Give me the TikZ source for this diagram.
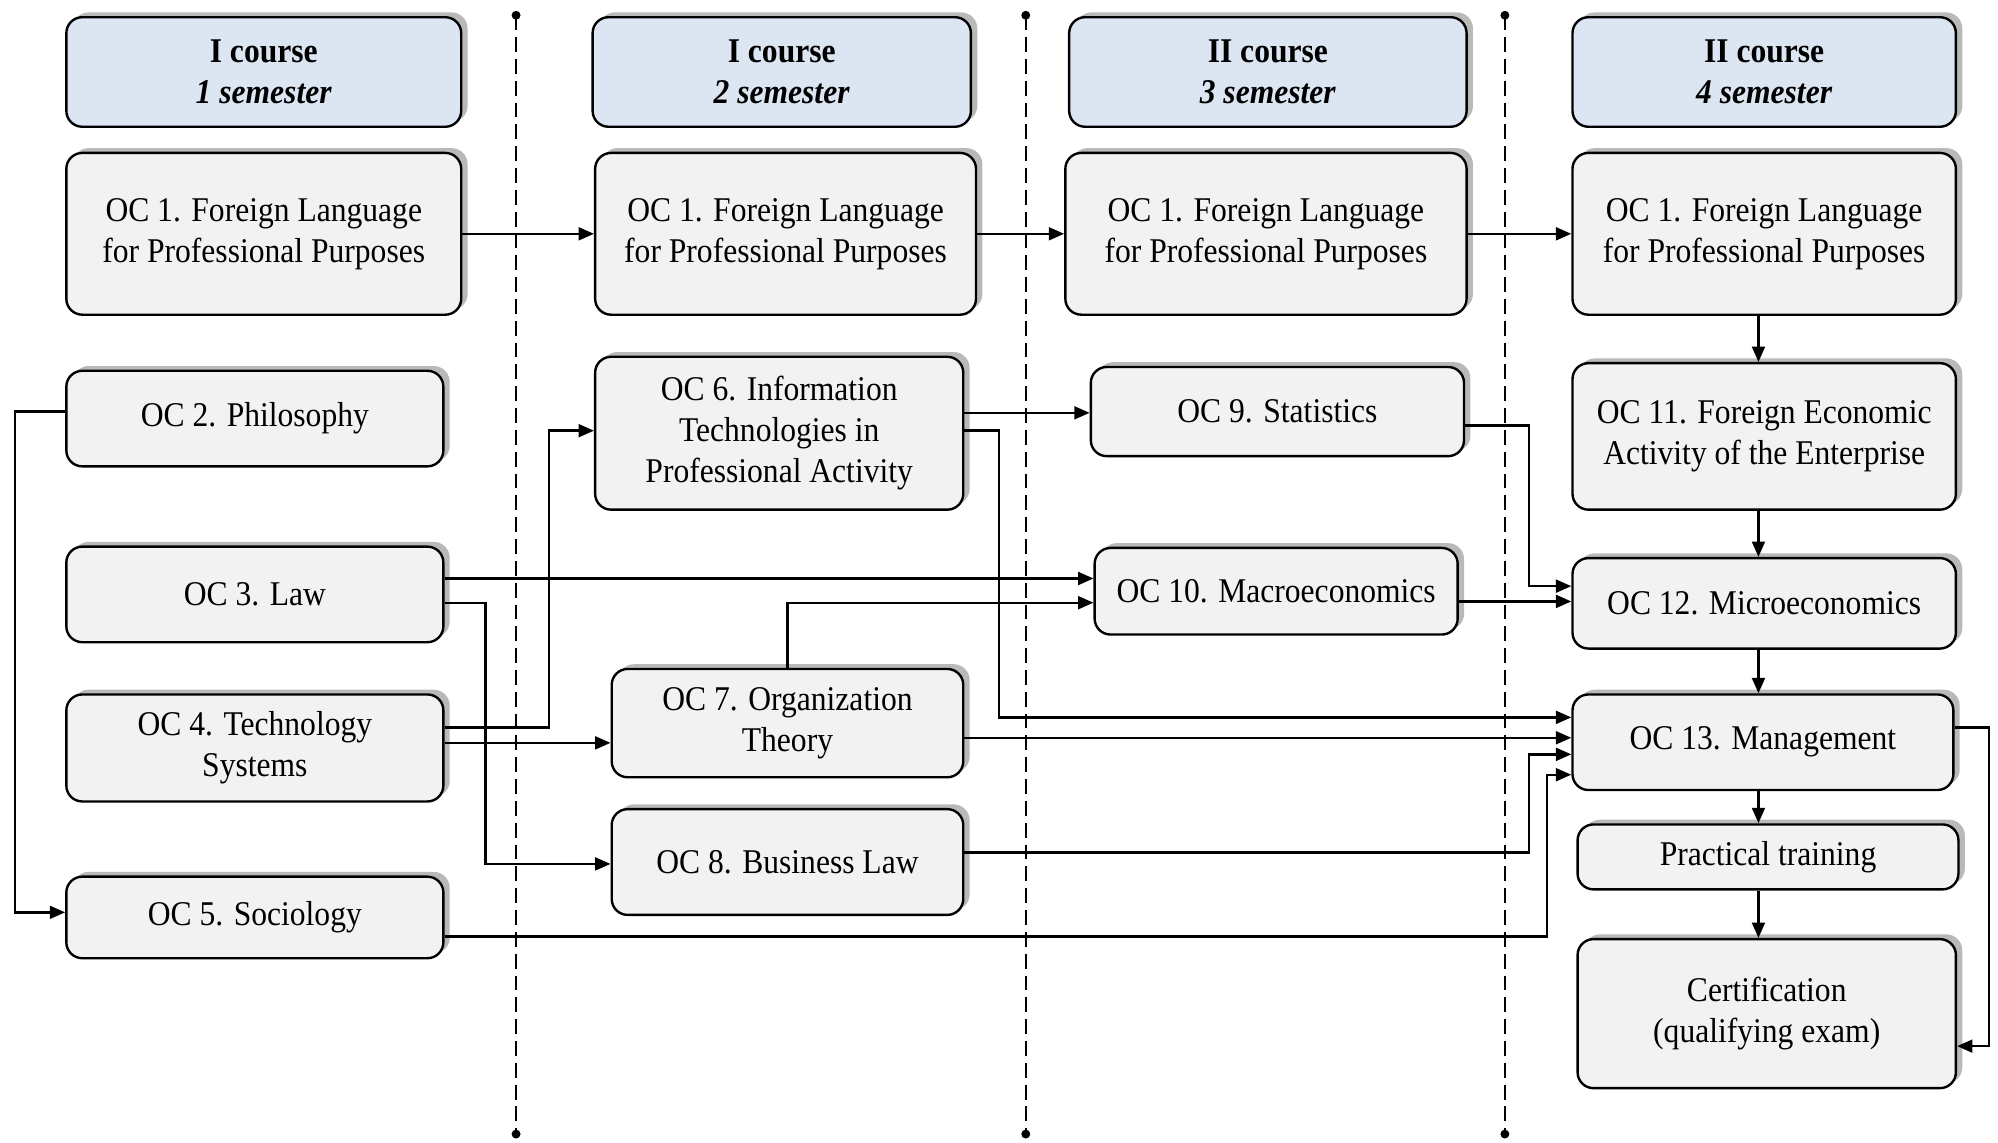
\documentclass[tikz,border=0pt]{standalone}
\usepackage{fontspec}
\setmainfont{Liberation Serif}[FakeStretch=0.91]
\usetikzlibrary{arrows.meta,shadows}
\definecolor{headblue}{RGB}{220,230,242}
\definecolor{boxgray}{RGB}{242,242,242}
\definecolor{shadegray}{RGB}{185,185,185}
\tikzset{
  cbox/.style={draw, line width=0.85pt, rounded corners=0.2cm, fill=boxgray, align=center, inner sep=0pt,
    font=\fontsize{12.4}{14.6}\selectfont,
    drop shadow={shadow xshift=0.08cm, shadow yshift=0.06cm, fill=shadegray, opacity=1}},
  hbox/.style={cbox, fill=headblue},
  flow/.style={line width=0.85pt, -{Triangle[length=5.5pt,width=4.6pt]}},
  divider/.style={line width=0.75pt, dash pattern=on 5.3pt off 2.5pt},
}
\begin{document}
\begin{tikzpicture}[x=0.016cm,y=0.016cm]
\useasboundingbox (0.000000,0.000000) rectangle (1568.000000,897.000000);
% Drawing semester dividers
\coordinate (d1top) at (405.000000,885.000000);
\coordinate (d1bot) at (405.000000,7.000000);
\coordinate (d2top) at (805.000000,885.000000);
\coordinate (d2bot) at (805.000000,7.000000);
\coordinate (d3top) at (1181.000000,885.000000);
\coordinate (d3bot) at (1181.000000,7.000000);
\draw[divider] (d1top) -- (d1bot);
\draw[divider] (d2top) -- (d2bot);
\draw[divider] (d3top) -- (d3bot);
\fill (d1top) circle (3.5) (d1bot) circle (3.5);
\fill (d2top) circle (3.5) (d2bot) circle (3.5);
\fill (d3top) circle (3.5) (d3bot) circle (3.5);
% Done with dividers; drawing headers
\node[hbox, minimum width=4.960cm, minimum height=1.376cm] (h1) at (207.000000,840.500000) {\textbf{I course}\\\textbf{\textit{1 semester}}};
\node[hbox, minimum width=4.752cm, minimum height=1.376cm] (h2) at (613.500000,840.500000) {\textbf{I course}\\\textbf{\textit{2 semester}}};
\node[hbox, minimum width=4.992cm, minimum height=1.376cm] (h3) at (995.000000,840.500000) {\textbf{II course}\\\textbf{\textit{3 semester}}};
\node[hbox, minimum width=4.816cm, minimum height=1.376cm] (h4) at (1384.500000,840.500000) {\textbf{II course}\\\textbf{\textit{4 semester}}};
% Done with headers; drawing components
% Column 1
\node[cbox, minimum width=4.960cm, minimum height=2.032cm] (a1) at (207.000000,713.500000) {OC 1. Foreign Language\\for Professional Purposes};
\node[cbox, minimum width=4.736cm, minimum height=1.200cm] (oc2) at (200.000000,568.500000) {OC 2. Philosophy};
\node[cbox, minimum width=4.736cm, minimum height=1.200cm] (oc3) at (200.000000,430.500000) {OC 3. Law};
\node[cbox, minimum width=4.736cm, minimum height=1.344cm] (oc4) at (200.000000,310.000000) {OC 4. Technology\\Systems};
\node[cbox, minimum width=4.736cm, minimum height=1.024cm] (oc5) at (200.000000,177.000000) {OC 5. Sociology};
% Column 2
\node[cbox, minimum width=4.784cm, minimum height=2.032cm] (a2) at (616.500000,713.500000) {OC 1. Foreign Language\\for Professional Purposes};
\node[cbox, minimum width=4.624cm, minimum height=1.920cm] (oc6) at (611.500000,557.000000) {OC 6. Information\\Technologies in\\Professional Activity};
\node[cbox, minimum width=4.416cm, minimum height=1.360cm] (oc7) at (618.000000,329.500000) {OC 7. Organization\\Theory};
\node[cbox, minimum width=4.416cm, minimum height=1.328cm] (oc8) at (618.000000,220.500000) {OC 8. Business Law};
% Column 3
\node[cbox, minimum width=5.040cm, minimum height=2.032cm] (a3) at (993.500000,713.500000) {OC 1. Foreign Language\\for Professional Purposes};
\node[cbox, minimum width=4.688cm, minimum height=1.120cm] (oc9) at (1002.500000,574.000000) {OC 9. Statistics};
\node[cbox, minimum width=4.560cm, minimum height=1.088cm] (oc10) at (1001.500000,433.000000) {OC 10. Macroeconomics};
% Column 4
\node[cbox, minimum width=4.816cm, minimum height=2.032cm] (a4) at (1384.500000,713.500000) {OC 1. Foreign Language\\for Professional Purposes};
\node[cbox, minimum width=4.816cm, minimum height=1.840cm] (oc11) at (1384.500000,554.500000) {OC 11. Foreign Economic\\Activity of the Enterprise};
\node[cbox, minimum width=4.816cm, minimum height=1.136cm] (oc12) at (1384.500000,423.500000) {OC 12. Microeconomics};
\node[cbox, minimum width=4.784cm, minimum height=1.200cm] (oc13) at (1383.500000,314.500000) {OC 13. Management};
\node[cbox, minimum width=4.784cm, minimum height=0.816cm] (prac) at (1387.500000,224.500000) {Practical training};
\node[cbox, minimum width=4.752cm, minimum height=1.872cm] (cert) at (1386.500000,101.500000) {Certification\\(qualifying exam)};
% Done with components; drawing arrows
% Foreign language chain
\draw[flow] (a1.east) -- (a2.west);
\draw[flow] (a2.east) -- (a3.west);
\draw[flow] (a3.east) -- (a4.west);
\draw[flow] (a4.south -| 1380,0) -- (oc11.north -| 1380,0);
\draw[flow] (oc11.south -| 1380,0) -- (oc12.north -| 1380,0);
\draw[flow] (oc12.south -| 1380,0) -- (oc13.north -| 1380,0);
\draw[flow] (oc13.south -| 1380,0) -- (prac.north -| 1380,0);
\draw[flow] (prac.south -| 1380,0) -- (cert.north -| 1380,0);
% Column 1 outputs
\draw[flow] (oc2.west |- 0,574) -- (12,574) -- (12,181) -- (oc5.west |- 0,181);
\draw[flow] (oc3.east |- 0,443) -- (oc10.west |- 0,443);
\draw[flow] (oc3.east |- 0,424) -| (381,219) -- (oc8.west |- 0,219);
\draw[flow] (oc4.east |- 0,326) -| (431,559) -- (oc6.west |- 0,559);
\draw[flow] (oc4.east |- 0,314) -- (oc7.west |- 0,314);
\draw[flow] (oc5.east |- 0,162) -| (1214,289) -- (oc13.west |- 0,289);
% Column 2 outputs
\draw[flow] (oc6.east |- 0,573) -- (oc9.west |- 0,573);
\draw[flow] (oc6.east |- 0,559) -| (784,334) -- (oc13.west |- 0,334);
\draw[flow] (oc7.north) |- (oc10.west |- 0,424);
\draw[flow] (oc7.east |- 0,318) -- (oc13.west |- 0,318);
\draw[flow] (oc8.east |- 0,228) -| (1200,305) -- (oc13.west |- 0,305);
% Column 3 outputs
\draw[flow] (oc9.east |- 0,563) -| (1200,437) -- (oc12.west |- 0,437);
\draw[flow] (oc10.east |- 0,425) -- (oc12.west |- 0,425);
% Column 4 outputs
\draw[flow] (oc13.east |- 0,326) -| (1561,76) -- (cert.east |- 0,76);
% Done with arrows
\end{tikzpicture}
\end{document}
